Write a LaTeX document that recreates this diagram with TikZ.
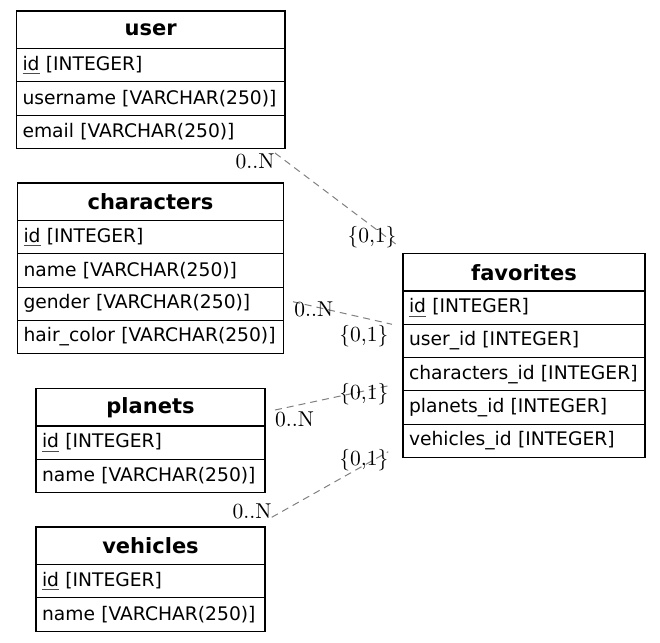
\documentclass[tikz,border=0pt]{standalone}
\usepackage{fontspec}
\newfontfamily\dejavu{DejaVu Sans}
\newfontfamily\cardserif{lmroman10-regular.otf}
\newcommand\bodyfont{\dejavu\fontsize{18.7}{22}\selectfont}
\newcommand\headfont{\dejavu\bfseries\fontsize{21}{25}\selectfont}
\newcommand\cardfont{\cardserif\fontsize{21.5}{26}\selectfont}
% primary-key marker: a thin rule under the column name
\newcommand\pk[1]{\leavevmode\setbox0\hbox{#1}\rlap{\color{black!70}\rule[-4.2pt]{\wd0}{0.9pt}}\box0\relax}
\begin{document}
\begin{tikzpicture}[
  x=1pt, y=-1pt,
  cell/.style={draw=black, line width=1.1pt, rectangle, inner xsep=6pt, inner ysep=0pt,
               outer sep=0pt, anchor=north west, align=left, font=\bodyfont,
               minimum height=33.3pt},
  head/.style={cell, align=center, font=\headfont, minimum height=37.5pt},
  card/.style={font=\cardfont, inner sep=0pt, anchor=base},
  rel/.style={draw=gray, line width=1pt, dash pattern=on 7pt off 5pt}
]
\useasboundingbox (0,0) rectangle (660,642);

% user
\begin{scope}[every node/.append style={text width=256.5pt}]
\node[head] (user) at (16.5,11) {user};
\node[cell] (user-id) at (user.south west) {\pk{id} [INTEGER]};
\node[cell] (user-username) at (user-id.south west) {username [VARCHAR(250)]};
\node[cell] (user-email) at (user-username.south west) {email [VARCHAR(250)]};
\end{scope}

% characters
\begin{scope}[every node/.append style={text width=253.8pt}]
\node[head] (characters) at (17.5,183) {characters};
\node[cell] (characters-id) at (characters.south west) {\pk{id} [INTEGER]};
\node[cell] (characters-name) at (characters-id.south west) {name [VARCHAR(250)]};
\node[cell] (characters-gender) at (characters-name.south west) {gender [VARCHAR(250)]};
\node[cell] (characters-hair) at (characters-gender.south west) {hair\_color [VARCHAR(250)]};
\end{scope}

% planets
\begin{scope}[every node/.append style={text width=217pt}]
\node[head] (planets) at (36,388.5) {planets};
\node[cell] (planets-id) at (planets.south west) {\pk{id} [INTEGER]};
\node[cell] (planets-name) at (planets-id.south west) {name [VARCHAR(250)]};
\end{scope}

% vehicles
\begin{scope}[every node/.append style={text width=217pt}]
\node[head] (vehicles) at (36,527) {vehicles};
\node[cell] (vehicles-id) at (vehicles.south west) {\pk{id} [INTEGER]};
\node[cell] (vehicles-name) at (vehicles-id.south west) {name [VARCHAR(250)]};
\end{scope}

% favorites
\begin{scope}[every node/.append style={text width=230pt}]
\node[head] (favorites) at (403,253.5) {favorites};
\node[cell] (favorites-id) at (favorites.south west) {\pk{id} [INTEGER]};
\node[cell] (favorites-user) at (favorites-id.south west) {user\_id [INTEGER]};
\node[cell] (favorites-characters) at (favorites-user.south west) {characters\_id [INTEGER]};
\node[cell] (favorites-planets) at (favorites-characters.south west) {planets\_id [INTEGER]};
\node[cell] (favorites-vehicles) at (favorites-planets.south west) {vehicles\_id [INTEGER]};
\end{scope}

% relation end points
\coordinate (u-out) at (275,153);
\coordinate (u-in) at (397,245);
\coordinate (c-out) at (293,301.7);
\coordinate (c-in) at (392,324.3);
\coordinate (p-out) at (275,410);
\coordinate (p-in) at (392,385);
\coordinate (v-out) at (271.7,517.3);
\coordinate (v-in) at (388.3,451.7);

\draw[rel] (u-out) -- (u-in);
\draw[rel] (c-out) -- (c-in);
\draw[rel] (p-out) -- (p-in);
\draw[rel] (v-out) -- (v-in);

% cardinalities
\node[card] (u-many) at (255,168) {0..N};
\node[card] (u-one) at (372,242) {\{0,1\}};
\node[card] (c-many) at (313.8,316.7) {0..N};
\node[card] (c-one) at (363.8,341.7) {\{0,1\}};
\node[card] (p-many) at (294.5,426.7) {0..N};
\node[card] (p-one) at (363.8,399) {\{0,1\}};
\node[card] (v-many) at (252,518) {0..N};
\node[card] (v-one) at (363.8,465) {\{0,1\}};
\end{tikzpicture}
\end{document}
